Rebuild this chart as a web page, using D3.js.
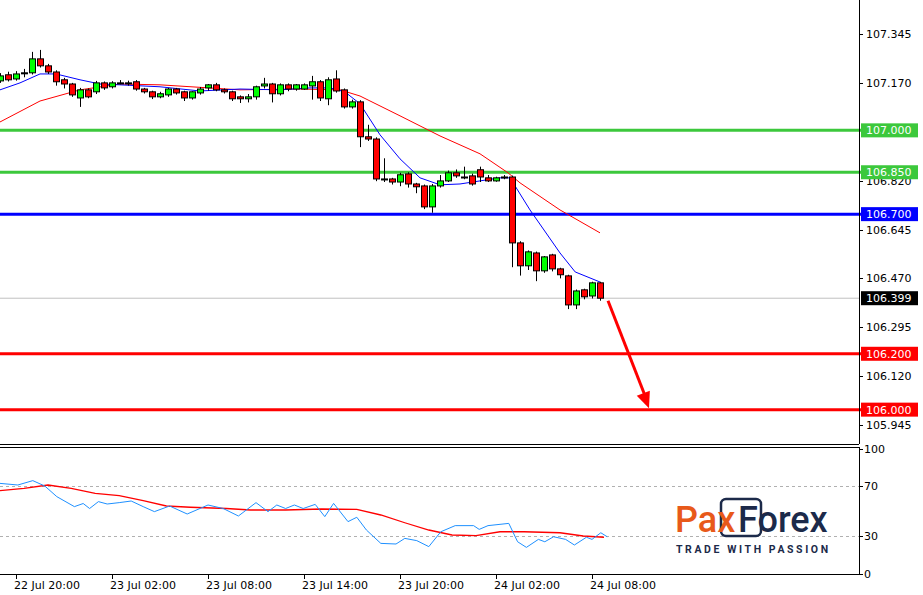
<!DOCTYPE html>
<html>
<head>
<meta charset="utf-8">
<script src="https://cdn.jsdelivr.net/npm/d3@7"></script>
<style>
  body { margin: 0; background: #fff; }
  text { font-family: "DejaVu Sans", sans-serif; font-size: 11px; }
</style>
</head>
<body>
<svg id="chart" width="923" height="595"></svg>
<script>
// candles, 30 min, first one at 22 Jul 19:00
var opens = [107.177,107.199,107.184,107.206,107.206,107.256,107.231,107.209,107.181,107.166,107.116,107.145,107.138,107.170,107.156,107.170,107.170,107.174,107.148,107.138,107.120,107.127,107.148,107.138,107.116,107.134,107.152,107.163,107.145,107.138,107.120,107.113,107.120,107.159,107.166,107.131,107.163,107.148,107.148,107.159,107.174,107.113,107.184,107.145,107.084,107.102,106.977,106.969,106.826,106.826,106.815,106.844,106.808,106.801,106.726,106.801,106.819,106.848,106.833,106.837,106.859,106.830,106.819,106.833,106.833,106.597,106.515,106.561,106.497,106.554,106.504,106.479,106.375,106.429,106.407,106.454]
var closes = [107.195,107.181,107.202,107.206,107.256,107.231,107.209,107.174,107.166,107.127,107.145,107.120,107.170,107.152,107.170,107.170,107.170,107.148,107.138,107.120,107.131,107.148,107.134,107.116,107.138,107.148,107.163,107.145,107.138,107.113,107.113,107.120,107.156,107.166,107.131,107.163,107.148,107.163,107.163,107.174,107.116,107.181,107.141,107.084,107.102,106.977,106.969,106.826,106.826,106.815,106.841,106.808,106.798,106.726,106.801,106.819,106.848,106.837,106.833,106.808,106.833,106.819,106.830,106.833,106.597,106.515,106.565,106.497,106.547,106.504,106.483,106.375,106.425,106.404,106.454,106.399]
var highs = [107.205,107.210,107.212,107.220,107.281,107.288,107.238,107.215,107.188,107.170,107.152,107.150,107.177,107.175,107.176,107.180,107.178,107.180,107.152,107.142,107.138,107.152,107.152,107.142,107.140,107.155,107.166,107.170,107.150,107.142,107.125,107.130,107.160,107.188,107.170,107.168,107.168,107.166,107.168,107.195,107.180,107.190,107.215,107.150,107.110,107.108,107.020,106.975,106.900,106.830,106.848,106.850,106.812,106.806,106.808,106.840,106.856,106.860,106.870,106.845,106.870,106.840,106.834,106.840,106.838,106.603,106.570,106.566,106.550,106.558,106.508,106.483,106.430,106.433,106.458,106.458]
var lows = [107.170,107.175,107.178,107.190,107.200,107.225,107.202,107.160,107.150,107.120,107.084,107.115,107.130,107.145,107.150,107.165,107.160,107.142,107.132,107.112,107.115,107.120,107.128,107.105,107.110,107.128,107.142,107.140,107.132,107.105,107.098,107.100,107.110,107.150,107.100,107.125,107.140,107.142,107.145,107.110,107.105,107.090,107.135,107.078,107.078,106.940,106.962,106.818,106.815,106.806,106.800,106.795,106.775,106.718,106.705,106.795,106.815,106.830,106.825,106.802,106.815,106.815,106.816,106.825,106.510,106.480,106.500,106.460,106.490,106.495,106.470,106.360,106.360,106.395,106.398,106.390]

// moving averages [bar index from 22 Jul 20:00, price]
var maFast = [[-2,107.145],[0.5,107.170],[3,107.202],[5,107.202],[8,107.181],[10.5,107.166],[13,107.163],[18,107.156],[23,107.141],[28,107.148],[33,107.145],[36.75,107.152],[39.25,107.152],[41.1,107.138],[43,107.095],[45.5,106.984],[48,106.898],[50.5,106.830],[53,106.805],[55.5,106.808],[58,106.819],[60.5,106.830],[61.75,106.830],[64.25,106.715],[68,106.561],[69.9,106.493],[73,106.457]]
var maSlow = [[-2,107.030],[3,107.105],[8,107.145],[13,107.166],[18,107.163],[28,107.145],[35.5,107.148],[40.5,107.145],[43,107.123],[48,107.052],[53,106.980],[58,106.916],[61.5,106.848],[63,106.812],[68,106.715],[73,106.633]]

// RSI and its average [bar index, value]
var rsi = [[-2,72.1],[0.23,70.8],[2.1,74.3],[3.6,70],[5.1,61.5],[7.3,53.5],[8.4,56],[9.2,52],[10.3,57.5],[11.4,55.6],[12.9,56.7],[14.4,58],[15.9,53.5],[17.3,49.5],[19.2,54],[21.4,47.6],[24,54.8],[25.9,52],[27.8,46],[30,56.7],[31.5,49.5],[32.6,54.8],[33.7,52],[34.8,54.8],[35.9,52],[37.4,55.3],[38.6,45.5],[39.7,56.1],[41.5,41.5],[42.6,45],[43.8,34.8],[45.6,24.1],[47.5,23.6],[48.6,28.1],[50.1,26.3],[51.6,21.5],[53.1,33.4],[54.9,38.3],[57.2,38.3],[57.9,35.3],[59,38.3],[61.6,40.1],[62.7,25.4],[63.8,20.9],[65.3,27.3],[66.1,25.4],[67.2,29.4],[68.7,27.3],[69.8,22.8],[71.3,29],[72,27.3],[73.1,32.6],[73.9,29.4]]
var rsiMa = [[-2,66.3],[1,68.1],[4,70.8],[6.9,68.1],[9.9,64.1],[12.9,62.3],[15.9,58.3],[18.8,54],[21.8,53],[26.3,52],[29.3,50.8],[33.7,50.8],[38.2,51.6],[42.6,51.3],[45.6,46.8],[48.6,40.6],[51.6,34.8],[54.5,30.8],[57.5,30.3],[60.5,33.4],[63.5,33.4],[68,32.6],[70.9,30],[73.5,29]]

var priceTicks = [107.345,107.170,106.820,106.645,106.470,106.295,106.120,105.945]
var timeTicks = ["22 Jul 20:00","23 Jul 02:00","23 Jul 08:00","23 Jul 14:00","23 Jul 20:00","24 Jul 02:00","24 Jul 08:00"]
var levels = [
  { v: 107.000, col: "#3cc83c", txt: "#fff" },
  { v: 106.850, col: "#3cc83c", txt: "#fff" },
  { v: 106.700, col: "#0000ff", txt: "#fff" },
  { v: 106.200, col: "#ff0000", txt: "#fff" },
  { v: 106.000, col: "#ff0000", txt: "#fff" }
]
var lastPrice = 106.399

var svg = d3.select("#chart")
var right = 859

// scales: bar index (0 = 22 Jul 20:00) -> px
var x = d3.scaleLinear().domain([0, 1]).range([16, 24])
var y = d3.scaleLinear().domain([107.345, 105.945]).range([34, 425])
var yr = d3.scaleLinear().domain([0, 100]).range([573.5, 448.5])

var main = svg.append("g")
main.append("clipPath").attr("id", "clipMain").append("rect").attr("x", 0).attr("y", 0).attr("width", right).attr("height", 444)
svg.append("clipPath").attr("id", "clipRsi").append("rect").attr("x", 0).attr("y", 448).attr("width", right).attr("height", 125)

// current price line
main.append("line").attr("x1", 0).attr("x2", right).attr("y1", y(lastPrice)).attr("y2", y(lastPrice))
  .attr("stroke", "#c0c0c0").attr("stroke-width", 1)

// levels
levels.forEach(function (l) {
  main.append("line").attr("x1", 0).attr("x2", right + 4).attr("y1", y(l.v)).attr("y2", y(l.v))
    .attr("stroke", l.col).attr("stroke-width", 3)
})

// MA lines
var lineP = d3.line().x(d => x(d[0])).y(d => y(d[1]))
var plot = main.append("g").attr("clip-path", "url(#clipMain)")
plot.append("path").attr("d", lineP(maSlow)).attr("fill", "none").attr("stroke", "#ff0000").attr("stroke-width", 1)
plot.append("path").attr("d", lineP(maFast)).attr("fill", "none").attr("stroke", "#0000ff").attr("stroke-width", 1)

// candles (first bar is two bars before 22 Jul 20:00)
var candles = plot.selectAll("g.c").data(opens.map((o, i) => ({ i: i - 2, o: o, c: closes[i], h: highs[i], l: lows[i] })))
  .enter().append("g").attr("class", "c")
candles.append("line")
  .attr("x1", d => Math.round(x(d.i)) + 0.5).attr("x2", d => Math.round(x(d.i)) + 0.5)
  .attr("y1", d => y(d.h)).attr("y2", d => y(d.l)).attr("stroke", "#000")
candles.append("rect")
  .attr("x", d => Math.round(x(d.i)) - 2.5).attr("width", 6)
  .attr("y", d => y(Math.max(d.o, d.c)))
  .attr("height", d => Math.max(1, Math.abs(y(d.o) - y(d.c))))
  .attr("fill", d => d.c > d.o ? "#00ff00" : (d.c < d.o ? "#ff0000" : "#000"))
  .attr("stroke", "#000").attr("stroke-width", 1)

// arrow
var ax1 = 608, ay1 = y(106.390), ax2 = 649, ay2 = y(106.005)
main.append("line").attr("x1", ax1).attr("y1", ay1).attr("x2", ax2 - 3).attr("y2", ay2 - 10)
  .attr("stroke", "#ff0000").attr("stroke-width", 3)
var ang = Math.atan2(ay2 - ay1, ax2 - ax1)
var hl = 16, hw = 7
var bx = ax2 - hl * Math.cos(ang), by = ay2 - hl * Math.sin(ang)
main.append("polygon")
  .attr("points", [[ax2, ay2], [bx + hw * Math.sin(ang), by - hw * Math.cos(ang)], [bx - hw * Math.sin(ang), by + hw * Math.cos(ang)]].map(p => p.join(",")).join(" "))
  .attr("fill", "#ff0000")

// price axis
svg.append("line").attr("x1", right + 0.5).attr("x2", right + 0.5).attr("y1", 0).attr("y2", 444).attr("stroke", "#000")
priceTicks.forEach(function (p) {
  svg.append("line").attr("x1", right).attr("x2", right + 4).attr("y1", Math.round(y(p)) + 0.5).attr("y2", Math.round(y(p)) + 0.5).attr("stroke", "#000")
  svg.append("text").attr("x", 866).attr("y", y(p) + 4).text(p.toFixed(3))
})
levels.forEach(function (l) {
  svg.append("rect").attr("x", right + 2).attr("y", y(l.v) - 7).attr("width", 57).attr("height", 14).attr("fill", l.col)
  svg.append("text").attr("x", 866).attr("y", y(l.v) + 4).attr("fill", l.txt).text(l.v.toFixed(3))
})
svg.append("rect").attr("x", right + 2).attr("y", y(lastPrice) - 7).attr("width", 57).attr("height", 14).attr("fill", "#000")
svg.append("text").attr("x", 866).attr("y", y(lastPrice) + 4).attr("fill", "#fff").text(lastPrice.toFixed(3))

// pane separators
svg.append("line").attr("x1", 0).attr("x2", right).attr("y1", 444.5).attr("y2", 444.5).attr("stroke", "#000")
svg.append("line").attr("x1", 0).attr("x2", right).attr("y1", 447.5).attr("y2", 447.5).attr("stroke", "#000")
svg.append("line").attr("x1", 0).attr("x2", right).attr("y1", 574.5).attr("y2", 574.5).attr("stroke", "#000")
svg.append("line").attr("x1", right + 0.5).attr("x2", right + 0.5).attr("y1", 447).attr("y2", 575).attr("stroke", "#000")

// RSI pane
var rg = svg.append("g")
;[70, 30].forEach(function (v) {
  rg.append("line").attr("x1", 0).attr("x2", right).attr("y1", Math.round(yr(v)) + 0.5).attr("y2", Math.round(yr(v)) + 0.5)
    .attr("stroke", "#b0b0b0").attr("stroke-dasharray", "3,3")
})
;[100, 70, 30, 0].forEach(function (v) {
  rg.append("line").attr("x1", right).attr("x2", right + 4).attr("y1", Math.round(yr(v)) + 0.5).attr("y2", Math.round(yr(v)) + 0.5).attr("stroke", "#000")
  rg.append("text").attr("x", 864).attr("y", yr(v) + 4).text(v)
})
var lineR = d3.line().x(d => x(d[0])).y(d => yr(d[1]))
var rp = rg.append("g").attr("clip-path", "url(#clipRsi)")
rp.append("path").attr("d", lineR(rsiMa)).attr("fill", "none").attr("stroke", "#ff0000").attr("stroke-width", 1.3)
rp.append("path").attr("d", lineR(rsi)).attr("fill", "none").attr("stroke", "#1e90ff").attr("stroke-width", 1)

// time axis
timeTicks.forEach(function (t, k) {
  var xx = x(k * 12)
  svg.append("line").attr("x1", Math.round(xx) + 0.5).attr("x2", Math.round(xx) + 0.5).attr("y1", 575).attr("y2", 579).attr("stroke", "#000")
  svg.append("text").attr("x", xx - 2).attr("y", 589).text(t)
})

// logo
var logo = svg.append("g")
logo.append("rect").attr("x", 721).attr("y", 499).attr("width", 40).attr("height", 37).attr("rx", 5)
  .attr("fill", "none").attr("stroke", "#1c2a4a").attr("stroke-width", 2.5)
logo.append("text").attr("x", 675).attr("y", 532).attr("fill", "#e8591a")
  .style("font-family", "Roboto, sans-serif").style("font-size", "36px").style("font-weight", "500").text("Pax")
logo.append("text").attr("x", 738).attr("y", 532).attr("fill", "#1c2a4a")
  .style("font-family", "Roboto, sans-serif").style("font-size", "36px").style("font-weight", "500").text("Forex")
logo.append("text").attr("x", 676).attr("y", 553).attr("fill", "#1c2a4a")
  .style("font-family", "Roboto, sans-serif").style("font-size", "10.5px").style("font-weight", "700").style("letter-spacing", "2.6px")
  .text("TRADE WITH PASSION")
</script>
</body>
</html>
